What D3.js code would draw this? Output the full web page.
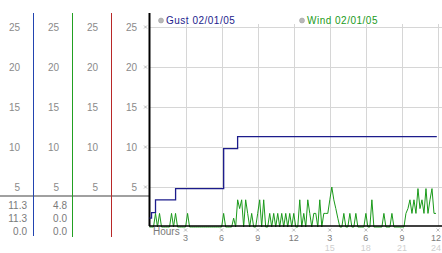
<!DOCTYPE html>
<html>
<head>
<meta charset="utf-8">
<script src="https://cdn.jsdelivr.net/npm/d3@7"></script>
<style>
  body { margin: 0; background: #fff; }
  text { font-family: "Liberation Sans", Arial, sans-serif; }
</style>
</head>
<body>
<svg id="chart" width="442" height="253"></svg>
<script>
"use strict";

// y ticks shown on every axis copy
var yTicks = [5, 10, 15, 20, 25];
// hour ticks on the bottom axis
var hourTicks = [3, 6, 9, 12, 15, 18, 21, 24];

// gust: time (hours) where the step starts, value
var gustHours = [0, 0.17, 0.5, 2.17, 6.17, 7.33, 23.9];
var gustValues = [1.1, 1.8, 3.4, 4.8, 9.8, 11.3, 11.3];

// wind: one reading every 10 minutes (144 readings)
var windValues = [
  0, 0, 0, 1.7, 0, 1.7, 0, 0, 0, 0, 0, 1.7,
  0, 1.7, 0, 0, 0, 0, 0, 1.7, 0, 0, 0, 0,
  0, 0, 0, 0, 0, 0, 0, 0, 0, 0, 0, 0,
  0, 1.7, 0, 0, 0, 0, 1.1, 0, 3.4, 2.3, 3.4, 0,
  3.4, 1.7, 0, 1.7, 0, 0, 1.7, 3.4, 0, 3.4, 0, 0,
  1.7, 0, 1.7, 0, 1.7, 0, 1.7, 0, 1.7, 0, 1.7, 0,
  1.7, 0, 0, 3.4, 0, 1.7, 0, 3.4, 1.7, 0, 1.7, 1.7,
  0, 3.4, 0, 1.7, 1.7, 1.7, 3.4, 5.0, 3.4, 2.3, 1.1, 0,
  0, 1.7, 0, 0, 1.7, 0, 0, 1.7, 0, 0, 0, 0,
  1.7, 0, 0, 3.4, 0, 0, 0, 0, 0, 1.7, 0, 0,
  0, 1.7, 0, 0, 0, 0, 0, 0, 1.7, 2.3, 3.4, 1.7,
  3.4, 1.7, 4.8, 2.3, 3.4, 1.7, 4.8, 1.7, 3.4, 4.8, 1.7, 1.7
];

// legend entries
var seriesNames = ["Gust 02/01/05", "Wind 02/01/05"];
var seriesColors = ["#1c1c8c", "#1a9a1a"];

// left panel: axis copies and the readings below them
var panelColors = ["#2244b0", "#22a022", "#b82828", "#000"];
var panelReadings = [["11.3", "11.3", "0.0"], ["4.8", "0.0", "0.0"]];

var svg = d3.select("#chart");

var x = d3.scaleLinear().domain([0, 24]).range([149.5, 438]);
var y = d3.scaleLinear().domain([0, 25]).range([227, 27]);

// tiny "x" shaped tick mark
function tickMark(g, cx, cy) {
  g.append("path")
    .attr("d", "M" + (cx - 1.5) + "," + (cy - 1.5) + "l3,3M" + (cx + 1.5) + "," + (cy - 1.5) + "l-3,3")
    .attr("stroke", "#a8a8a8").attr("stroke-width", 0.8).attr("fill", "none");
}

// grid
var grid = svg.append("g").attr("stroke", "#d6d6d6").attr("stroke-width", 1);
grid.selectAll(".hg").data(yTicks).enter().append("line")
  .attr("x1", 149).attr("x2", 442)
  .attr("y1", function(d) { return Math.round(y(d)) + 0.5; })
  .attr("y2", function(d) { return Math.round(y(d)) + 0.5; });
grid.selectAll(".vg").data(hourTicks).enter().append("line")
  .attr("x1", function(d) { return Math.round(x(d)) + 0.5; })
  .attr("x2", function(d) { return Math.round(x(d)) + 0.5; })
  .attr("y1", 24).attr("y2", 226);

// left panel axis copies
var colLineX = [33, 72, 111, 149];
var colLabelX = [20, 59, 98, 137];
var colBottom = [236, 237, 237, 226];

svg.append("line")
  .attr("x1", 0).attr("x2", 149).attr("y1", 196).attr("y2", 196)
  .attr("stroke", "#a0a0a0").attr("stroke-width", 2);

colLineX.forEach(function(cx, i) {
  svg.append("line")
    .attr("x1", cx + 0.5).attr("x2", cx + 0.5)
    .attr("y1", 13).attr("y2", colBottom[i])
    .attr("stroke", panelColors[i]).attr("stroke-width", i == 3 ? 2 : 1);

  svg.append("g").selectAll("text").data(yTicks).enter().append("text")
    .attr("x", colLabelX[i])
    .attr("y", function(d) { return y(d); })
    .attr("dy", "0.35em")
    .attr("text-anchor", "end")
    .attr("font-size", "10px")
    .attr("fill", "#8a8a8a")
    .text(function(d) { return d; });
});

// small tick marks next to the main axis
var yMarks = svg.append("g");
yTicks.forEach(function(d) { tickMark(yMarks, 145.5, y(d)); });

// readings below the grey line
var readX = [27, 67];
panelReadings.forEach(function(col, i) {
  svg.append("g").selectAll("text").data(col).enter().append("text")
    .attr("x", readX[i])
    .attr("y", function(d, j) { return 205 + j * 13; })
    .attr("dy", "0.35em")
    .attr("text-anchor", "end")
    .attr("font-size", "10px")
    .attr("fill", "#7a7a7a")
    .text(function(d) { return d; });
});

// wind series
var windLine = d3.line()
  .x(function(d, i) { return x(i / 6); })
  .y(function(d) { return y(d); });
svg.append("path")
  .datum(windValues)
  .attr("d", windLine)
  .attr("fill", "none")
  .attr("stroke", seriesColors[1])
  .attr("stroke-width", 1);

// baseline
svg.append("line")
  .attr("x1", 149).attr("x2", 442).attr("y1", 226).attr("y2", 226)
  .attr("stroke", "#000").attr("stroke-width", 1.5);

// gust series
var gustData = gustHours.map(function(h, i) { return [h, gustValues[i]]; });
var gustLine = d3.line()
  .x(function(d) { return x(d[0]); })
  .y(function(d) { return y(d[1]); })
  .curve(d3.curveStepAfter);
svg.append("path")
  .datum(gustData)
  .attr("d", gustLine)
  .attr("fill", "none")
  .attr("stroke", seriesColors[0])
  .attr("stroke-width", 1.3);

// bottom axis
var bottom = svg.append("g");
bottom.append("text")
  .attr("x", 153).attr("y", 231.5).attr("dy", "0.35em")
  .attr("font-size", "10px").attr("fill", "#7a7a7a")
  .text("Hours");
hourTicks.forEach(function(d) { tickMark(bottom, Math.min(x(d), 439.5), 230); });

function labelX(d) { return d == 24 ? 441 : x(d); }
function labelAnchor(d) { return d == 24 ? "end" : "middle"; }

bottom.selectAll(".l1").data(hourTicks).enter().append("text")
  .attr("x", labelX)
  .attr("y", 237.5).attr("dy", "0.35em")
  .attr("text-anchor", labelAnchor)
  .attr("font-size", "9px").attr("fill", "#7a7a7a")
  .text(function(d) { return d > 12 ? d - 12 : d; });
bottom.selectAll(".l2").data(hourTicks.filter(function(d) { return d > 12; })).enter().append("text")
  .attr("x", labelX)
  .attr("y", 247.5).attr("dy", "0.35em")
  .attr("text-anchor", labelAnchor)
  .attr("font-size", "9px").attr("fill", "#cfcfcf")
  .text(function(d) { return d; });

// legend
var legendX = [161, 302];
seriesNames.forEach(function(name, i) {
  svg.append("circle")
    .attr("cx", legendX[i]).attr("cy", 20.5).attr("r", 2.5)
    .attr("fill", "#b8b8b8").attr("stroke", "#999").attr("stroke-width", 0.5);
  svg.append("text")
    .attr("x", legendX[i] + 5).attr("y", 20.5).attr("dy", "0.35em")
    .attr("font-size", "10px").attr("letter-spacing", "0.5px")
    .attr("fill", seriesColors[i])
    .text(name);
});
</script>
</body>
</html>
